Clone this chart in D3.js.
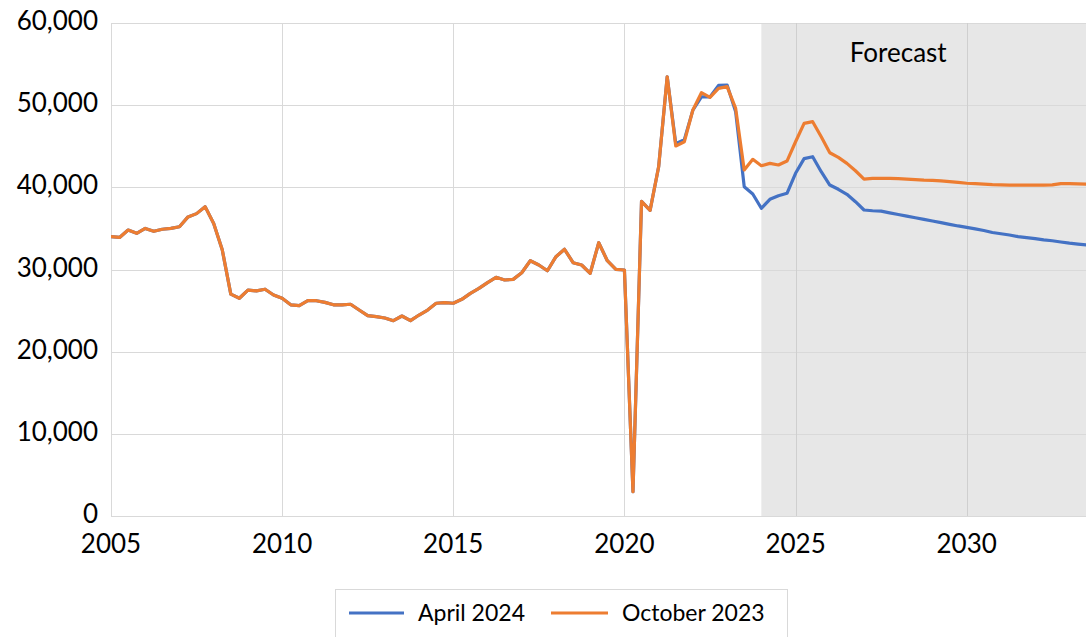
<!DOCTYPE html>
<html>
<head>
<meta charset="utf-8">
<script src="https://cdn.jsdelivr.net/npm/d3@7"></script>
<style>
  html, body { margin: 0; padding: 0; background: #fff; }
  svg { display: block; }
  text { font-family: Lato, "Open Sans", sans-serif; fill: #000; }
</style>
</head>
<body>
<svg id="chart" width="1086" height="637"></svg>
<script>
// ---- data (quarterly, starting 2005 Q1) ----
const startYear = 2005;
const forecastStart = 2024;
const seriesNames = ["April 2024", "October 2023"];
const yTicks = [0, 10000, 20000, 30000, 40000, 50000, 60000];
const xTicks = [2005, 2010, 2015, 2020, 2025, 2030];

const october2023 = [
  34000, 33900, 34800, 34400, 35000, 34650, 34900, 35000,
  35200, 36400, 36800, 37650, 35600, 32400, 27000, 26500,
  27500, 27400, 27600, 26900, 26500, 25700, 25600, 26200,
  26200, 26000, 25700, 25700, 25770, 25070, 24380, 24260,
  24100, 23770, 24340, 23770, 24460, 25070, 25890, 25970,
  25890, 26370, 27100, 27700, 28400, 29050, 28720, 28800,
  29600, 31070, 30550, 29850, 31560, 32460, 30830, 30550,
  29540, 33260, 31070, 30020, 29940, 2960, 38300, 37200,
  42500, 53460, 45030, 45550, 49410, 51520, 50950, 52050,
  52250, 49600, 42110, 43410, 42630, 42920, 42720, 43200,
  45550, 47790, 47990, 46160, 44210, 43640, 42920, 42020,
  41010, 41100, 41100, 41080, 41050, 41000, 40950, 40880,
  40850, 40780, 40700, 40600, 40500, 40450, 40400, 40330,
  40300, 40280, 40280, 40280, 40280, 40280, 40300, 40450,
  40450, 40420, 40400
];

const april2024 = [
  34000, 33900, 34800, 34400, 35000, 34650, 34900, 35000,
  35200, 36400, 36800, 37650, 35600, 32400, 27000, 26500,
  27500, 27400, 27600, 26900, 26500, 25700, 25600, 26200,
  26200, 26000, 25700, 25700, 25770, 25070, 24380, 24260,
  24100, 23770, 24340, 23770, 24460, 25070, 25890, 25970,
  25890, 26370, 27100, 27700, 28400, 29050, 28720, 28800,
  29600, 31070, 30550, 29850, 31560, 32460, 30830, 30550,
  29540, 33260, 31070, 30020, 29940, 2960, 38300, 37200,
  42500, 53460, 45300, 45800, 49400, 51000, 51000, 52400,
  52450, 49200, 40080, 39190, 37450, 38540, 38980, 39270,
  41710, 43490, 43730, 41900, 40280, 39760, 39150, 38250,
  37240, 37150, 37100, 36900, 36700, 36500, 36300, 36100,
  35900, 35700, 35500, 35300, 35130, 34950, 34750, 34500,
  34350, 34200, 34000, 33870, 33750, 33600, 33500, 33350,
  33200, 33080, 32980
];

// ---- layout ----
const svg = d3.select("#chart");
const pLeft = 111, pRight = 1086, pTop = 23, pBottom = 516;

const x = d3.scaleLinear().domain([2005, 2033.5]).range([pLeft, pRight + 0.5]);
const y = d3.scaleLinear().domain([0, 60000]).range([pBottom, pTop]);

const colors = { "April 2024": "#4472C4", "October 2023": "#ED7D31" };

// forecast shading
svg.append("rect")
  .attr("x", x(forecastStart)).attr("y", y(60000))
  .attr("width", pRight - x(forecastStart)).attr("height", y(0) - y(60000))
  .attr("fill", "#e7e7e7");

// gridlines
const grid = svg.append("g");
grid.selectAll("line.h").data(yTicks).join("line")
  .attr("x1", pLeft).attr("x2", pRight)
  .attr("y1", d => Math.round(y(d)) + 0.5).attr("y2", d => Math.round(y(d)) + 0.5)
  .attr("stroke", "#d9d9d9").attr("stroke-width", 1);
grid.selectAll("line.v").data(xTicks).join("line")
  .attr("x1", d => Math.round(x(d)) + 0.5).attr("x2", d => Math.round(x(d)) + 0.5)
  .attr("y1", pTop).attr("y2", pBottom)
  .attr("stroke", d => x(d) > x(forecastStart) ? "#cfcfcf" : "#d9d9d9").attr("stroke-width", 1);

// y axis labels
const yFmt = d3.format(",");
svg.append("g").selectAll("text").data(yTicks).join("text")
  .attr("x", 98).attr("y", d => y(d) + 7)
  .attr("text-anchor", "end")
  .attr("font-size", 26)
  .text(d => yFmt(d));

// x axis labels
svg.append("g").selectAll("text").data(xTicks).join("text")
  .attr("x", d => x(d)).attr("y", 553)
  .attr("text-anchor", "middle")
  .attr("font-size", 26)
  .text(d => d);

// forecast label
svg.append("text")
  .attr("x", x(2028.0)).attr("y", 62)
  .attr("text-anchor", "middle").attr("font-size", 26)
  .text("Forecast");

// lines
const line = d3.line()
  .x((d, i) => x(startYear + i / 4))
  .y(d => y(d));

svg.append("defs").append("clipPath").attr("id", "clip")
  .append("rect").attr("x", pLeft).attr("y", 0).attr("width", pRight - pLeft).attr("height", 637);

const lines = svg.append("g").attr("clip-path", "url(#clip)");
lines.append("path").datum(april2024)
  .attr("d", line).attr("fill", "none")
  .attr("stroke", colors["April 2024"]).attr("stroke-width", 3.2)
  .attr("stroke-linejoin", "round");
lines.append("path").datum(october2023)
  .attr("d", line).attr("fill", "none")
  .attr("stroke", colors["October 2023"]).attr("stroke-width", 3.2)
  .attr("stroke-linejoin", "round");

// legend
const lg = svg.append("g");
lg.append("rect")
  .attr("x", 335.5).attr("y", 589.5).attr("width", 452).attr("height", 60)
  .attr("fill", "#fff").attr("stroke", "#d9d9d9");
const legendItems = [
  { name: seriesNames[0], x0: 349, x1: 404, tx: 418 },
  { name: seriesNames[1], x0: 551, x1: 608, tx: 622 }
];
legendItems.forEach(it => {
  lg.append("line").attr("x1", it.x0).attr("x2", it.x1).attr("y1", 613).attr("y2", 613)
    .attr("stroke", colors[it.name]).attr("stroke-width", 3.2);
  lg.append("text").attr("x", it.tx).attr("y", 621).attr("font-size", 23).text(it.name);
});
</script>
</body>
</html>
